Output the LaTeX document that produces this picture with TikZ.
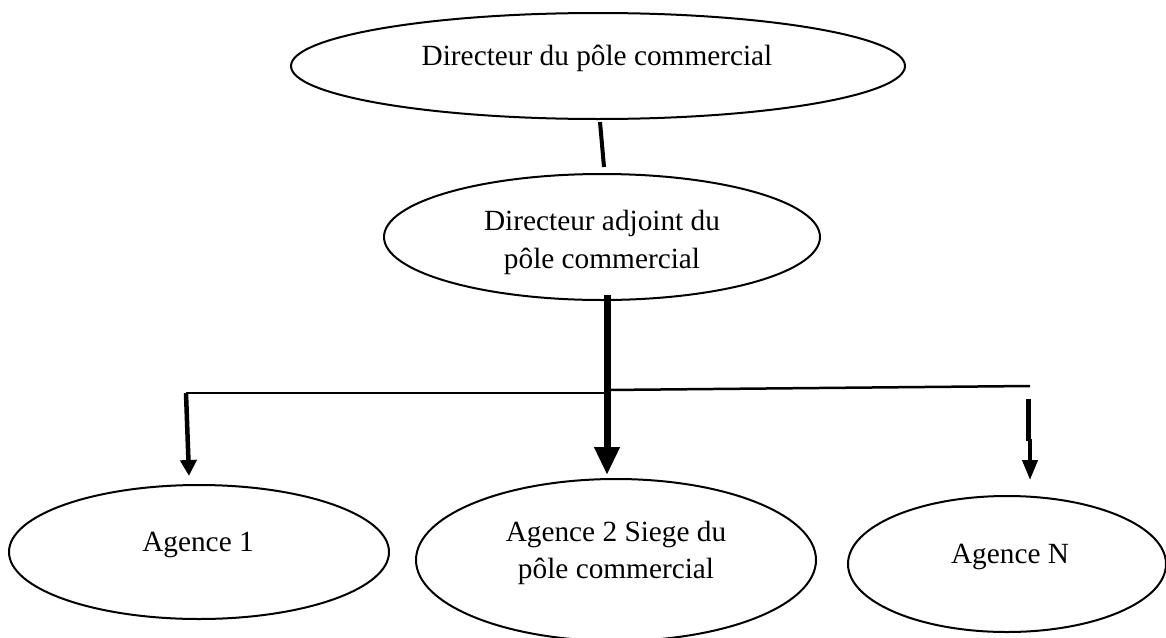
\documentclass[tikz,border=0pt]{standalone}
\usepackage{fontspec}
\setmainfont{Liberation Serif}
\usetikzlibrary{arrows.meta,shapes.geometric}
\begin{document}
\begin{tikzpicture}[x=1pt,y=-1pt,
  oval/.style={draw=black,ellipse,line width=2pt,inner sep=0pt},
  lbl/.style={inner sep=0pt,align=center,font=\fontsize{29.3}{37.5}\selectfont},
  thin/.style={draw=black,line width=2.5pt},
  mainarrow/.style={draw=black,line width=7pt,-{Triangle[length=28pt,width=24pt]}},
  leftarrow/.style={draw=black,line width=4.5pt,-{Triangle[length=16pt,width=16pt]}},
  rightarrow/.style={draw=black,line width=4pt,-{Triangle[length=20pt,width=15pt]}}]
\useasboundingbox (0,0) rectangle (1166,637);
% ellipses
\node[oval,minimum width=614pt,minimum height=106pt] (e1) at (598,66) {};
\node[lbl,anchor=base] (t1) at (597,65) {Directeur du pôle commercial};
\node[oval,minimum width=436pt,minimum height=126pt] (e2) at (602,237) {};
\node[lbl] (t2) at (602,242.4) {Directeur adjoint du\\pôle commercial};
\node[oval,minimum width=380pt,minimum height=134pt] (a1) at (199,552) {};
\node[lbl,anchor=base] (ta1) at (198,551) {Agence 1};
\node[oval,minimum width=400pt,minimum height=162pt] (a2) at (616,560) {};
\node[lbl] (ta2) at (616,553) {Agence 2 Siege du\\pôle commercial};
\node[oval,minimum width=318pt,minimum height=136pt] (aN) at (1007,564) {};
\node[lbl,anchor=base] (taN) at (1010,563) {Agence N};
% connector points
\coordinate (s1) at (600,122);
\coordinate (s2) at (604,167);
\coordinate (m1) at (607,295);
\coordinate (m2) at (607,475);
\coordinate (hl) at (186,393);
\coordinate (hm) at (607,393);
\coordinate (hm2) at (607,390);
\coordinate (hr) at (1030,386);
\coordinate (la) at (189,476);
\coordinate (r1) at (1028,399);
\coordinate (r2) at (1028,441);
\coordinate (r3) at (1030,439);
\coordinate (r4) at (1030,480);
% connectors
\draw[draw=black,line width=4pt] (s1) -- (s2);
\draw[thin] (hl) -- (hm);
\draw[thin] (hm2) -- (hr);
\draw[mainarrow] (m1) -- (m2);
\draw[leftarrow] (hl) -- (la);
\draw[draw=black,line width=5pt] (r1) -- (r2);
\draw[rightarrow] (r3) -- (r4);
\end{tikzpicture}
\end{document}
